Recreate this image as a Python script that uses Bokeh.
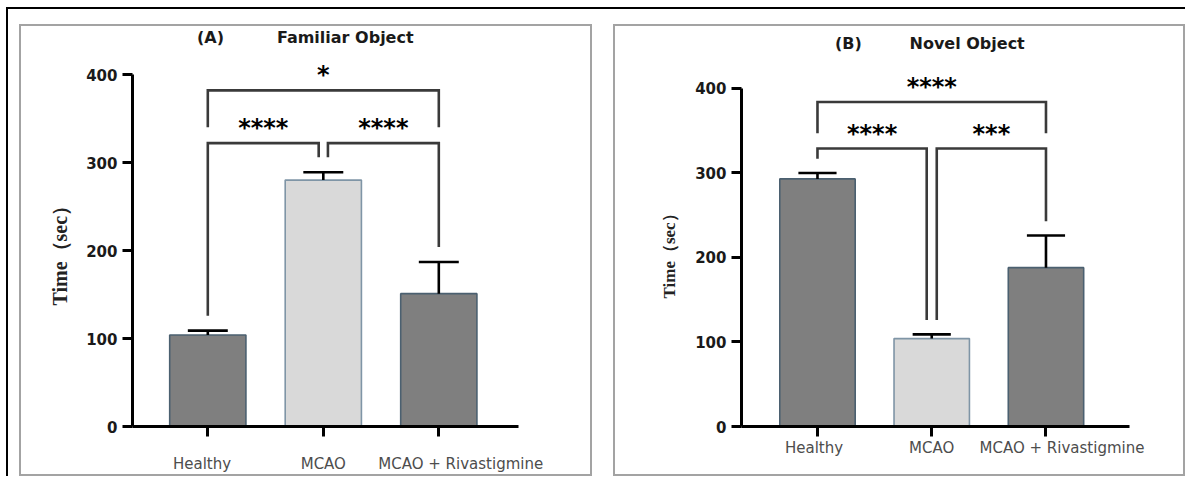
import numpy as np
from bokeh.plotting import figure
from bokeh.layouts import row
from bokeh.models import Range1d, FixedTicker, Title, LinearAxis
from bokeh.core.properties import value
from bokeh.embed import file_html
from bokeh.resources import INLINE

# ---------------- data ----------------
categories = ["Healthy", "MCAO", "MCAO + Rivastigmine"]
familiar_mean = [104, 280, 151]
familiar_sem = [5, 9, 36]
novel_mean = [293, 104, 188]
novel_sem = [7, 5, 38]
comparisons = [(0, 1), (1, 2), (0, 2)]
familiar_sig = ["****", "****", "*"]
novel_sig = ["****", "***", "****"]
y_ticks = [0, 100, 200, 300, 400]
y_label = "Time（sec）"

# ---------------- styles ----------------
bar_fill = ["#7f7f7f", "#d9d9d9", "#7f7f7f"]
bar_line = ["#4b6070", "#7f95a6", "#4b6070"]
BRACKET = "#3a3a3a"


def panel(letter, title, means, sems, sigs, cfg):
    idx = np.arange(len(categories))
    p = figure(
        width=cfg["w"], height=cfg["h"],
        x_range=Range1d(cfg["x0"], cfg["x1"]),
        y_range=Range1d(0, cfg["ytop"]),
        output_backend="svg", toolbar_location=None,
        min_border_left=cfg["bl"], min_border_right=cfg["br"],
        min_border_top=cfg["bt"], min_border_bottom=cfg["bb"],
        background_fill_color="white", border_fill_color="white",
        outline_line_color=None,
        styles={"border": "2px solid #a3a3a3"},
        margin=cfg["margin"],
    )
    p.xgrid.visible = False
    p.ygrid.visible = False

    # bars
    p.vbar(x=idx, top=means, bottom=0, width=0.66,
           fill_color=bar_fill, line_color=bar_line, line_width=1.6)

    # error bars (mean + SEM)
    tops = [m + s for m, s in zip(means, sems)]
    p.segment(x0=idx, y0=means, x1=idx, y1=tops, line_color="black", line_width=2.6)
    cw = cfg["cap"]
    p.segment(x0=idx - cw, y0=tops, x1=idx + cw, y1=tops, line_color="black", line_width=2.6)

    # significance brackets
    gap = cfg["gap"]
    legs = [t + 17 for t in tops]
    low, high = cfg["low"], cfg["high"]
    xs, ys, sx, sy = [], [], [], []
    for (a, b) in comparisons:
        xa = a + (gap if a == 1 else 0)
        xb = b - (gap if b == 1 else 0)
        if b - a == 1:
            lvl = low
            ya, yb = legs[a], legs[b]
        else:
            lvl = high
            ya = yb = low + 18
        xs.append([xa, xa, xb, xb])
        ys.append([ya, lvl, lvl, yb])
        sx.append((xa + xb) / 2)
        sy.append(lvl + 20)
    p.multi_line(xs=xs, ys=ys, line_color=BRACKET, line_width=2.6, line_join="miter")
    p.text(x=sx, y=sy, text=sigs, text_font=value("DejaVu Sans"), text_font_style="bold",
           text_font_size="24px", text_align="center", text_baseline="middle",
           text_color="black", y_offset=2)

    # panel heading: "(X)" and the panel name
    p.text(x=cfg["tx"], y=[cfg["ty"], cfg["ty"]], text=[letter, title],
           text_font=value("DejaVu Sans"), text_font_style="bold", text_font_size="16px",
           text_align="center", text_baseline="middle", text_color="#1a1a1a")

    # y-axis title, placed along the axis
    p.add_layout(Title(text=y_label, align="left", offset=cfg["yl_off"],
                       standoff=cfg["yl_stand"], vertical_align="middle",
                       text_font="Liberation Serif", text_font_style="bold",
                       text_font_size=cfg["yl_size"], text_color="#222222"), "left")

    # axes
    for ax in (p.xaxis[0], p.yaxis[0]):
        ax.axis_line_width = 3
        ax.axis_line_color = "black"
        ax.major_tick_line_width = 3
        ax.major_tick_line_color = "black"
        ax.major_tick_out = 10
        ax.major_tick_in = 0
        ax.minor_tick_line_color = None
    yax = p.yaxis[0]
    yax.ticker = FixedTicker(ticks=y_ticks)
    yax.bounds = (0, 400)
    yax.major_label_text_font = "DejaVu Sans"
    yax.major_label_text_font_style = "bold"
    yax.major_label_text_font_size = "15px"
    yax.major_label_text_color = "#1a1a1a"
    yax.major_label_standoff = 5

    # x axis: line and tick marks at the categories
    xax = p.xaxis[0]
    xax.ticker = FixedTicker(ticks=[float(i) for i in idx])
    xax.major_label_overrides = {float(i): "" for i in idx}
    xax.major_label_text_font_size = "0px"
    xax.major_label_standoff = 0

    # category names (placed as in the original figure)
    lab_pos = [float(i) + d for i, d in zip(idx, cfg["lab_shift"])]
    lab_axis = LinearAxis(
        ticker=FixedTicker(ticks=lab_pos),
        major_label_overrides={pos: c for pos, c in zip(lab_pos, categories)},
        axis_line_color=None, major_tick_line_color=None, minor_tick_line_color=None,
        major_tick_out=0, major_tick_in=0,
        major_label_text_font="DejaVu Sans", major_label_text_font_size="15px",
        major_label_text_color="#4d4d4d", major_label_standoff=cfg["xlab_standoff"],
    )
    p.add_layout(lab_axis, "below")
    return p


cfg_a = dict(w=573, h=452, x0=-0.652, x1=2.690, ytop=452.3,
             bl=111, br=76, bt=2, bb=52, margin=(15, 0, 0, 11),
             cap=0.173, gap=0.04, low=322, high=382,
             tx=[0.023, 1.19], ty=442,
             yl_off=121, yl_stand=23, yl_size="20px",
             lab_shift=[-0.05, 0.0, 0.19], xlab_standoff=18)
cfg_b = dict(w=572, h=452, x0=-0.665, x1=2.731, ytop=471.0,
             bl=126, br=58, bt=2, bb=52, margin=(15, 0, 0, 21),
             cap=0.167, gap=0.044, low=329, high=384,
             tx=[0.27, 1.31], ty=453,
             yl_off=128, yl_stand=26, yl_size="17px",
             lab_shift=[-0.03, 0.0, 0.14], xlab_standoff=2)

pa = panel("(A)", "Familiar Object", familiar_mean, familiar_sem, familiar_sig, cfg_a)
pb = panel("(B)", "Novel Object", novel_mean, novel_sem, novel_sig, cfg_b)

layout = row(pa, pb, spacing=0, margin=(7, 0, 0, 6),
             styles={"border-top": "2px solid black", "border-left": "2px solid black"})

open("out.html", "w").write(file_html(layout, INLINE))
